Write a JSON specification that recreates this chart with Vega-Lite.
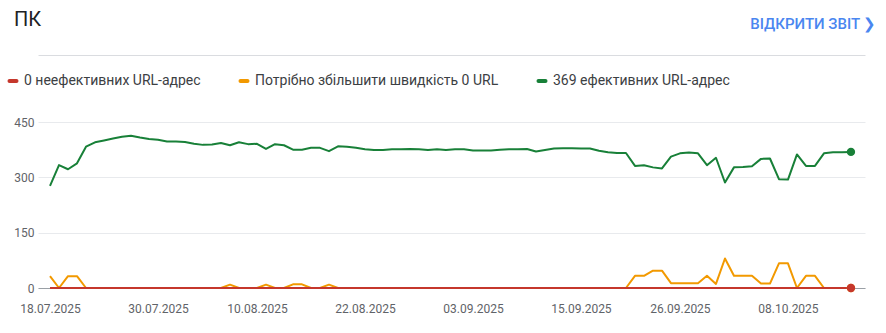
{
"$schema":"https://vega.github.io/schema/vega-lite/v6.json",
"width":827,"height":166,
"autosize":{"type":"none"},
"padding":{"left":38,"top":122,"right":21,"bottom":45},
"background":"white",
"config":{"font":"Roboto","view":{"stroke":null}},
"title":{"text":"ПК","anchor":"start","frame":"group","dx":-24,"fontSize":20,"fontWeight":"normal","color":"#202124","font":"Roboto","offset":-14},
"data":{"values":[
{"date":"2025-07-18","s":"good","v":277},{"date":"2025-07-19","s":"good","v":333},{"date":"2025-07-20","s":"good","v":322},{"date":"2025-07-21","s":"good","v":338},{"date":"2025-07-22","s":"good","v":383},{"date":"2025-07-23","s":"good","v":395},{"date":"2025-07-24","s":"good","v":400},{"date":"2025-07-25","s":"good","v":405},{"date":"2025-07-26","s":"good","v":410},{"date":"2025-07-27","s":"good","v":413},{"date":"2025-07-28","s":"good","v":408},{"date":"2025-07-29","s":"good","v":404},{"date":"2025-07-30","s":"good","v":402},{"date":"2025-07-31","s":"good","v":397},
{"date":"2025-08-01","s":"good","v":397},{"date":"2025-08-02","s":"good","v":396},{"date":"2025-08-03","s":"good","v":391},{"date":"2025-08-04","s":"good","v":388},{"date":"2025-08-05","s":"good","v":389},{"date":"2025-08-06","s":"good","v":393},{"date":"2025-08-07","s":"good","v":387},{"date":"2025-08-08","s":"good","v":395},{"date":"2025-08-09","s":"good","v":390},{"date":"2025-08-10","s":"good","v":391},{"date":"2025-08-11","s":"good","v":377},{"date":"2025-08-12","s":"good","v":390},{"date":"2025-08-13","s":"good","v":387},{"date":"2025-08-14","s":"good","v":375},{"date":"2025-08-15","s":"good","v":375},{"date":"2025-08-16","s":"good","v":380},{"date":"2025-08-17","s":"good","v":380},{"date":"2025-08-18","s":"good","v":371},{"date":"2025-08-19","s":"good","v":384},{"date":"2025-08-20","s":"good","v":383},{"date":"2025-08-21","s":"good","v":380},{"date":"2025-08-22","s":"good","v":376},{"date":"2025-08-23","s":"good","v":374},{"date":"2025-08-24","s":"good","v":374},{"date":"2025-08-25","s":"good","v":376},{"date":"2025-08-26","s":"good","v":376},{"date":"2025-08-27","s":"good","v":377},{"date":"2025-08-28","s":"good","v":376},{"date":"2025-08-29","s":"good","v":374},{"date":"2025-08-30","s":"good","v":376},{"date":"2025-08-31","s":"good","v":374},
{"date":"2025-09-01","s":"good","v":376},{"date":"2025-09-02","s":"good","v":376},{"date":"2025-09-03","s":"good","v":373},{"date":"2025-09-04","s":"good","v":373},{"date":"2025-09-05","s":"good","v":373},{"date":"2025-09-06","s":"good","v":375},{"date":"2025-09-07","s":"good","v":376},{"date":"2025-09-08","s":"good","v":376},{"date":"2025-09-09","s":"good","v":377},{"date":"2025-09-10","s":"good","v":370},{"date":"2025-09-11","s":"good","v":374},{"date":"2025-09-12","s":"good","v":378},{"date":"2025-09-13","s":"good","v":379},{"date":"2025-09-14","s":"good","v":379},{"date":"2025-09-15","s":"good","v":378},{"date":"2025-09-16","s":"good","v":378},{"date":"2025-09-17","s":"good","v":372},{"date":"2025-09-18","s":"good","v":368},{"date":"2025-09-19","s":"good","v":366},{"date":"2025-09-20","s":"good","v":366},{"date":"2025-09-21","s":"good","v":331},{"date":"2025-09-22","s":"good","v":333},{"date":"2025-09-23","s":"good","v":327},{"date":"2025-09-24","s":"good","v":324},{"date":"2025-09-25","s":"good","v":356},{"date":"2025-09-26","s":"good","v":365},{"date":"2025-09-27","s":"good","v":367},{"date":"2025-09-28","s":"good","v":365},{"date":"2025-09-29","s":"good","v":333},{"date":"2025-09-30","s":"good","v":353},
{"date":"2025-10-01","s":"good","v":286},{"date":"2025-10-02","s":"good","v":327},{"date":"2025-10-03","s":"good","v":328},{"date":"2025-10-04","s":"good","v":330},{"date":"2025-10-05","s":"good","v":350},{"date":"2025-10-06","s":"good","v":351},{"date":"2025-10-07","s":"good","v":295},{"date":"2025-10-08","s":"good","v":294},{"date":"2025-10-09","s":"good","v":362},{"date":"2025-10-10","s":"good","v":331},{"date":"2025-10-11","s":"good","v":331},{"date":"2025-10-12","s":"good","v":365},{"date":"2025-10-13","s":"good","v":368},{"date":"2025-10-14","s":"good","v":368},{"date":"2025-10-15","s":"good","v":369},
{"date":"2025-07-18","s":"ni","v":32},{"date":"2025-07-19","s":"ni","v":0},{"date":"2025-07-20","s":"ni","v":32},{"date":"2025-07-21","s":"ni","v":32},{"date":"2025-07-22","s":"ni","v":0},{"date":"2025-07-23","s":"ni","v":0},{"date":"2025-07-24","s":"ni","v":0},{"date":"2025-07-25","s":"ni","v":0},{"date":"2025-07-26","s":"ni","v":0},{"date":"2025-07-27","s":"ni","v":0},{"date":"2025-07-28","s":"ni","v":0},{"date":"2025-07-29","s":"ni","v":0},{"date":"2025-07-30","s":"ni","v":0},{"date":"2025-07-31","s":"ni","v":0},
{"date":"2025-08-01","s":"ni","v":0},{"date":"2025-08-02","s":"ni","v":0},{"date":"2025-08-03","s":"ni","v":0},{"date":"2025-08-04","s":"ni","v":0},{"date":"2025-08-05","s":"ni","v":0},{"date":"2025-08-06","s":"ni","v":0},{"date":"2025-08-07","s":"ni","v":9},{"date":"2025-08-08","s":"ni","v":0},{"date":"2025-08-09","s":"ni","v":0},{"date":"2025-08-10","s":"ni","v":0},{"date":"2025-08-11","s":"ni","v":9},{"date":"2025-08-12","s":"ni","v":0},{"date":"2025-08-13","s":"ni","v":0},{"date":"2025-08-14","s":"ni","v":10},{"date":"2025-08-15","s":"ni","v":10},{"date":"2025-08-16","s":"ni","v":0},{"date":"2025-08-17","s":"ni","v":0},{"date":"2025-08-18","s":"ni","v":9},{"date":"2025-08-19","s":"ni","v":0},{"date":"2025-08-20","s":"ni","v":0},{"date":"2025-08-21","s":"ni","v":0},{"date":"2025-08-22","s":"ni","v":0},{"date":"2025-08-23","s":"ni","v":0},{"date":"2025-08-24","s":"ni","v":0},{"date":"2025-08-25","s":"ni","v":0},{"date":"2025-08-26","s":"ni","v":0},{"date":"2025-08-27","s":"ni","v":0},{"date":"2025-08-28","s":"ni","v":0},{"date":"2025-08-29","s":"ni","v":0},{"date":"2025-08-30","s":"ni","v":0},{"date":"2025-08-31","s":"ni","v":0},
{"date":"2025-09-01","s":"ni","v":0},{"date":"2025-09-02","s":"ni","v":0},{"date":"2025-09-03","s":"ni","v":0},{"date":"2025-09-04","s":"ni","v":0},{"date":"2025-09-05","s":"ni","v":0},{"date":"2025-09-06","s":"ni","v":0},{"date":"2025-09-07","s":"ni","v":0},{"date":"2025-09-08","s":"ni","v":0},{"date":"2025-09-09","s":"ni","v":0},{"date":"2025-09-10","s":"ni","v":0},{"date":"2025-09-11","s":"ni","v":0},{"date":"2025-09-12","s":"ni","v":0},{"date":"2025-09-13","s":"ni","v":0},{"date":"2025-09-14","s":"ni","v":0},{"date":"2025-09-15","s":"ni","v":0},{"date":"2025-09-16","s":"ni","v":0},{"date":"2025-09-17","s":"ni","v":0},{"date":"2025-09-18","s":"ni","v":0},{"date":"2025-09-19","s":"ni","v":0},{"date":"2025-09-20","s":"ni","v":0},{"date":"2025-09-21","s":"ni","v":33},{"date":"2025-09-22","s":"ni","v":33},{"date":"2025-09-23","s":"ni","v":47},{"date":"2025-09-24","s":"ni","v":47},{"date":"2025-09-25","s":"ni","v":13},{"date":"2025-09-26","s":"ni","v":13},{"date":"2025-09-27","s":"ni","v":13},{"date":"2025-09-28","s":"ni","v":13},{"date":"2025-09-29","s":"ni","v":33},{"date":"2025-09-30","s":"ni","v":11},
{"date":"2025-10-01","s":"ni","v":80},{"date":"2025-10-02","s":"ni","v":33},{"date":"2025-10-03","s":"ni","v":33},{"date":"2025-10-04","s":"ni","v":33},{"date":"2025-10-05","s":"ni","v":12},{"date":"2025-10-06","s":"ni","v":12},{"date":"2025-10-07","s":"ni","v":67},{"date":"2025-10-08","s":"ni","v":67},{"date":"2025-10-09","s":"ni","v":0},{"date":"2025-10-10","s":"ni","v":33},{"date":"2025-10-11","s":"ni","v":33},{"date":"2025-10-12","s":"ni","v":0},{"date":"2025-10-13","s":"ni","v":0},{"date":"2025-10-14","s":"ni","v":0},{"date":"2025-10-15","s":"ni","v":0},
{"date":"2025-07-18","s":"poor","v":0},{"date":"2025-07-19","s":"poor","v":0},{"date":"2025-07-20","s":"poor","v":0},{"date":"2025-07-21","s":"poor","v":0},{"date":"2025-07-22","s":"poor","v":0},{"date":"2025-07-23","s":"poor","v":0},{"date":"2025-07-24","s":"poor","v":0},{"date":"2025-07-25","s":"poor","v":0},{"date":"2025-07-26","s":"poor","v":0},{"date":"2025-07-27","s":"poor","v":0},{"date":"2025-07-28","s":"poor","v":0},{"date":"2025-07-29","s":"poor","v":0},{"date":"2025-07-30","s":"poor","v":0},{"date":"2025-07-31","s":"poor","v":0},
{"date":"2025-08-01","s":"poor","v":0},{"date":"2025-08-02","s":"poor","v":0},{"date":"2025-08-03","s":"poor","v":0},{"date":"2025-08-04","s":"poor","v":0},{"date":"2025-08-05","s":"poor","v":0},{"date":"2025-08-06","s":"poor","v":0},{"date":"2025-08-07","s":"poor","v":0},{"date":"2025-08-08","s":"poor","v":0},{"date":"2025-08-09","s":"poor","v":0},{"date":"2025-08-10","s":"poor","v":0},{"date":"2025-08-11","s":"poor","v":0},{"date":"2025-08-12","s":"poor","v":0},{"date":"2025-08-13","s":"poor","v":0},{"date":"2025-08-14","s":"poor","v":0},{"date":"2025-08-15","s":"poor","v":0},{"date":"2025-08-16","s":"poor","v":0},{"date":"2025-08-17","s":"poor","v":0},{"date":"2025-08-18","s":"poor","v":0},{"date":"2025-08-19","s":"poor","v":0},{"date":"2025-08-20","s":"poor","v":0},{"date":"2025-08-21","s":"poor","v":0},{"date":"2025-08-22","s":"poor","v":0},{"date":"2025-08-23","s":"poor","v":0},{"date":"2025-08-24","s":"poor","v":0},{"date":"2025-08-25","s":"poor","v":0},{"date":"2025-08-26","s":"poor","v":0},{"date":"2025-08-27","s":"poor","v":0},{"date":"2025-08-28","s":"poor","v":0},{"date":"2025-08-29","s":"poor","v":0},{"date":"2025-08-30","s":"poor","v":0},{"date":"2025-08-31","s":"poor","v":0},
{"date":"2025-09-01","s":"poor","v":0},{"date":"2025-09-02","s":"poor","v":0},{"date":"2025-09-03","s":"poor","v":0},{"date":"2025-09-04","s":"poor","v":0},{"date":"2025-09-05","s":"poor","v":0},{"date":"2025-09-06","s":"poor","v":0},{"date":"2025-09-07","s":"poor","v":0},{"date":"2025-09-08","s":"poor","v":0},{"date":"2025-09-09","s":"poor","v":0},{"date":"2025-09-10","s":"poor","v":0},{"date":"2025-09-11","s":"poor","v":0},{"date":"2025-09-12","s":"poor","v":0},{"date":"2025-09-13","s":"poor","v":0},{"date":"2025-09-14","s":"poor","v":0},{"date":"2025-09-15","s":"poor","v":0},{"date":"2025-09-16","s":"poor","v":0},{"date":"2025-09-17","s":"poor","v":0},{"date":"2025-09-18","s":"poor","v":0},{"date":"2025-09-19","s":"poor","v":0},{"date":"2025-09-20","s":"poor","v":0},{"date":"2025-09-21","s":"poor","v":0},{"date":"2025-09-22","s":"poor","v":0},{"date":"2025-09-23","s":"poor","v":0},{"date":"2025-09-24","s":"poor","v":0},{"date":"2025-09-25","s":"poor","v":0},{"date":"2025-09-26","s":"poor","v":0},{"date":"2025-09-27","s":"poor","v":0},{"date":"2025-09-28","s":"poor","v":0},{"date":"2025-09-29","s":"poor","v":0},{"date":"2025-09-30","s":"poor","v":0},
{"date":"2025-10-01","s":"poor","v":0},{"date":"2025-10-02","s":"poor","v":0},{"date":"2025-10-03","s":"poor","v":0},{"date":"2025-10-04","s":"poor","v":0},{"date":"2025-10-05","s":"poor","v":0},{"date":"2025-10-06","s":"poor","v":0},{"date":"2025-10-07","s":"poor","v":0},{"date":"2025-10-08","s":"poor","v":0},{"date":"2025-10-09","s":"poor","v":0},{"date":"2025-10-10","s":"poor","v":0},{"date":"2025-10-11","s":"poor","v":0},{"date":"2025-10-12","s":"poor","v":0},{"date":"2025-10-13","s":"poor","v":0},{"date":"2025-10-14","s":"poor","v":0},{"date":"2025-10-15","s":"poor","v":0}
]},
"layer":[
{"mark":{"type":"line","strokeWidth":2,"interpolate":"linear","strokeJoin":"round"},
"encoding":{
"x":{"field":"date","type":"temporal","scale":{"type":"utc","domain":[{"year":2025,"month":7,"date":16,"hours":16,"utc":true},{"year":2025,"month":10,"date":16,"hours":13,"minutes":26,"utc":true}]},
"axis":{"orient":"bottom","title":null,"format":"%d.%m.%Y","values":[{"year":2025,"month":7,"date":18,"utc":true},{"year":2025,"month":7,"date":30,"utc":true},{"year":2025,"month":8,"date":10,"utc":true},{"year":2025,"month":8,"date":22,"utc":true},{"year":2025,"month":9,"date":3,"utc":true},{"year":2025,"month":9,"date":15,"utc":true},{"year":2025,"month":9,"date":26,"utc":true},{"year":2025,"month":10,"date":8,"utc":true}],"ticks":false,"tickSize":0,"labelPadding":15,"labelFontSize":12,"labelColor":"#5f6368","labelFont":"Roboto","domain":true,"domainColor":"#9aa0a6","domainWidth":1,"grid":false,"labelOverlap":false}},
"y":{"field":"v","type":"quantitative","scale":{"domain":[0,450],"nice":false,"zero":true},
"axis":{"title":null,"values":[0,150,300,450],"ticks":false,"tickSize":0,"domain":false,"labelPadding":4,"labelFontSize":12,"labelColor":"#5f6368","labelFont":"Roboto","grid":true,"gridColor":"#e8eaed","gridWidth":1}},
"color":{"field":"s","type":"nominal","scale":{"domain":["poor","ni","good"],"range":["#c5372c","#f29900","#188038"]},
"legend":{"orient":"none","legendX":-32,"legendY":-48,"direction":"horizontal","title":null,"padding":0,"symbolType":"stroke","symbolSize":49,"symbolStrokeWidth":4,"labelFontSize":14,"labelColor":"#3c4043","labelFont":"Roboto","labelOffset":4,"labelLimit":400,"columnPadding":31,
"labelExpr":"datum.value == 'poor' ? '0 неефективних URL-адрес' : datum.value == 'ni' ? 'Потрібно збільшити швидкість 0 URL' : '369 ефективних URL-адрес'",
"encode":{"symbols":{"update":{"strokeCap":{"value":"round"}}}}}}
}},
{"transform":[{"filter":"utcmonth(datum.date) == 9 && utcdate(datum.date) == 15"}],
"mark":{"type":"point","filled":true,"size":70,"opacity":1},
"encoding":{
"x":{"field":"date","type":"temporal","axis":{"orient":"top","offset":67,"labels":false,"ticks":false,"grid":false,"domain":true,"domainColor":"#dadce0","domainWidth":1,"title":"ВІДКРИТИ ЗВІТ ❯","titleAnchor":"end","titleAlign":"right","titleX":838,"titleColor":"#4a86f0","titleFontSize":15,"titleFontWeight":500,"titleFont":"Roboto","titlePadding":24}},
"y":{"field":"v","type":"quantitative"},
"color":{"field":"s","type":"nominal","legend":null}
}}
],
"resolve":{"axis":{"x":"independent"}}
}
